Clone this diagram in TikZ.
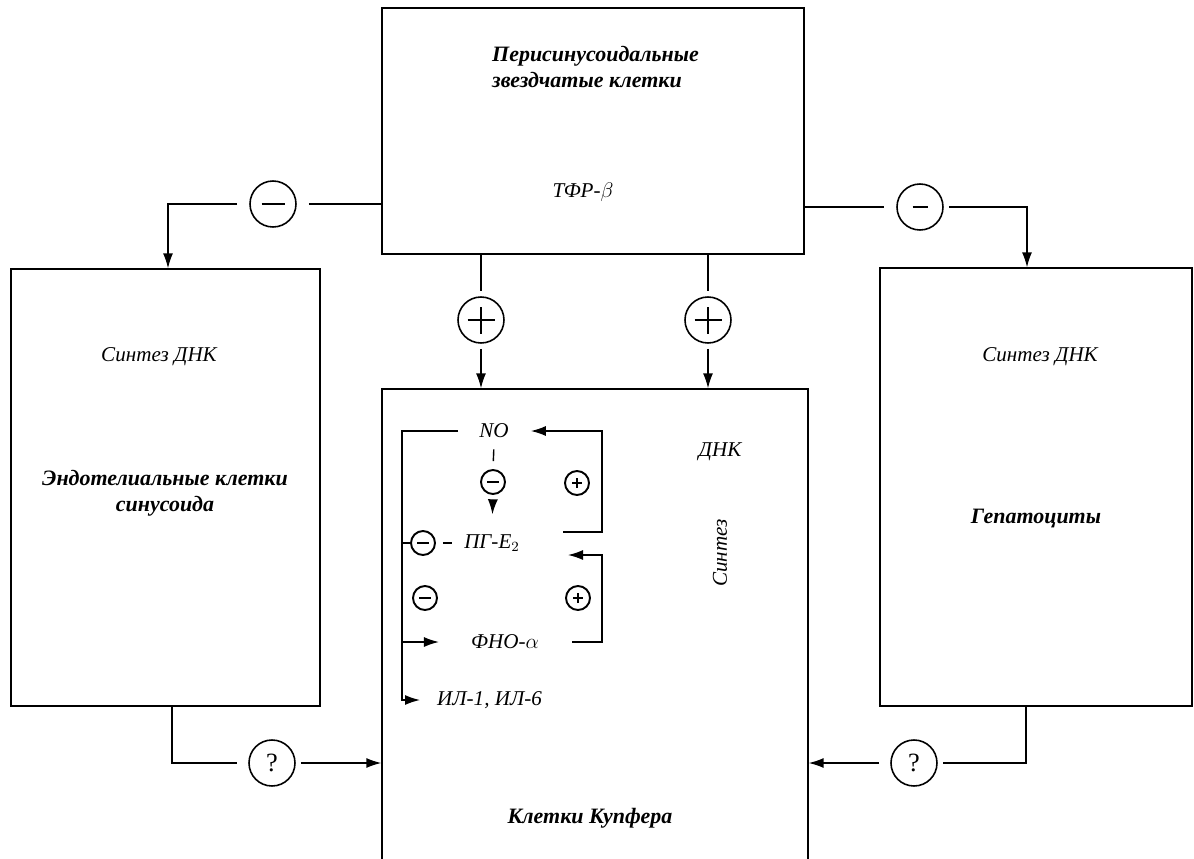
\documentclass[tikz,border=0pt]{standalone}
\usepackage{fontspec}
\setmainfont{Liberation Serif}
\usepackage{tikz}
\usetikzlibrary{positioning,arrows.meta}
\tikzset{
cellbox/.style={
draw,
line width=0.8pt,
inner sep=0pt
},
sign/.style={
circle,
draw,
line width=0.9pt,
minimum size=0.92cm,
inner sep=0pt
},
smallsign/.style={
circle,
draw,
line width=1.1pt,
minimum size=0.48cm,
inner sep=0pt
},
minusbar/.style={
path picture={\draw[line width=1.4pt]([xshift=-#1]path picture bounding box.center)--([xshift=#1]path picture bounding box.center);}
},
plusbar/.style={
path picture={\draw[line width=1.1pt]([xshift=-#1]path picture bounding box.center)--([xshift=#1]path picture bounding box.center)
([yshift=-#1]path picture bounding box.center)--([yshift=#1]path picture bounding box.center);}
},
celltext/.style={
font=\fontsize{12}{14.5}\selectfont\itshape,
align=center
},
celltitle/.style={
font=\fontsize{12.5}{15}\selectfont\bfseries\itshape,
align=center
},
link/.style={
line width=0.8pt
},
arrow/.style={
-{Latex[length=3mm,width=2mm]},
line width=0.8pt
}
}
\begin{document}
\begin{tikzpicture}[x=0.02cm,y=-0.02cm]
\useasboundingbox (0,0) rectangle (1194,859);
% cells
\node[cellbox,minimum width=8.44cm,minimum height=4.92cm] (psc) at (593,131) {};
\node[cellbox,minimum width=6.18cm,minimum height=8.74cm] (endo) at (165.5,487.5) {};
\node[cellbox,minimum width=6.24cm,minimum height=8.76cm] (hep) at (1036,487) {};
\node[cellbox,minimum width=8.52cm,minimum height=9.62cm] (kup) at (595,629.5) {};

\node[celltitle,align=left,anchor=west] (pscname) at (486,67) {Перисинусоидальные\\звездчатые клетки};
\node[celltext] (tgf) at (583,192) {ТФР-$\beta$};
\node[celltext] (endodna) at (159,357) {Синтез ДНК};
\node[celltitle] (endoname) at (165,493) {Эндотелиальные клетки\\синусоида};
\node[celltext] (hepdna) at (1040,357) {Синтез ДНК};
\node[celltitle] (hepname) at (1036,518) {Гепатоциты};
\node[celltitle] (kupname) at (590,818) {Клетки Купфера};
\node[celltext] (kupdna) at (720,452) {ДНК};
\node[celltext,rotate=90] (kupsyn) at (720,553) {Синтез};

% signs between cells
\node[sign,minusbar=0.23cm] (negL) at (273,204) {};
\node[sign,minusbar=0.15cm] (negR) at (920,207) {};
\node[sign,plusbar=0.27cm] (posL) at (481,320) {};
\node[sign,plusbar=0.27cm] (posR) at (708,320) {};
\node[sign,font=\fontsize{15}{15}\selectfont] (askL) at (272,763) {?};
\node[sign,font=\fontsize{15}{15}\selectfont] (askR) at (914,763) {?};

\coordinate (cornL) at (168,204);
\coordinate (cornR) at (1027,207);
\draw[link,shorten <=0.24cm] (negL.east) -- (negL -| psc.west);
\draw[arrow,shorten <=0.24cm] (negL.west) -- (cornL) -- (cornL |- endo.north);
\draw[link,shorten >=0.24cm] (negR -| psc.east) -- (negR.west);
\draw[arrow,shorten <=0.1cm] (negR.east) -- (cornR) -- (cornR |- hep.north);

\foreach \s in {posL,posR}{
\draw[link,shorten >=0.1cm] (psc.south -| \s) -- (\s.north);
\draw[arrow,shorten <=0.1cm] (\s.south) -- (\s |- kup.north);
}

\coordinate (askcornL) at (172,763);
\coordinate (askcornR) at (1026,763);
\draw[link,shorten >=0.22cm] (endo.south -| askcornL) -- (askcornL) -- (askL.west);
\draw[arrow,shorten <=0.1cm] (askL.east) -- (askL -| kup.west);
\draw[link,shorten >=0.1cm] (hep.south -| askcornR) -- (askcornR) -- (askR.east);
\draw[arrow,shorten <=0.22cm] (askR.west) -- (askR -| kup.east);

% mediators in the Kupffer cell
\node[celltext] (no) at (494,431) {NO};
\node[celltext] (pge) at (492,543) {ПГ-E$_2$};
\node[celltext] (tnf) at (505,642) {ФНО-$\alpha$};
\node[celltext,anchor=west] (il) at (431,700) {ИЛ-1, ИЛ-6};

\node[smallsign,minusbar=0.12cm] (nopge) at (493,482) {};
\node[smallsign,plusbar=0.1cm] (pgeno) at (577,483) {};
\node[smallsign,minusbar=0.12cm] (nopgeL) at (423,543) {};
\node[smallsign,minusbar=0.12cm] (notnf) at (425,598) {};
\node[smallsign,plusbar=0.1cm] (tnfpge) at (578,598) {};

\coordinate (innerTL) at (402,431);
\coordinate (innerBL) at (402,700);
\draw[arrow,shorten <=0.3cm,shorten >=0.22cm] (no.west) -- (innerTL) -- (innerBL) -- (il.west);
\draw[arrow,shorten >=0.52cm] (innerBL |- tnf) -- (tnf.west);
\draw[link] (nopgeL.west) -- (nopgeL -| innerTL);
\draw[link] ([xshift=0.14cm]nopgeL.east) -- ++(9,0);
\draw[link,shorten <=0.1cm,shorten >=0.16cm] (no.south) -- (nopge.north);
\draw[arrow,shorten <=0.1cm,shorten >=0.28cm] (nopge.south) -- (pge.north);

\coordinate (loopA) at (563,532);
\coordinate (loopAr) at (602,532);
\coordinate (loopAt) at (602,431);
\draw[arrow,shorten >=0.32cm] (loopA) -- (loopAr) -- (loopAt) -- (no.east);
\coordinate (loopB) at (572,642);
\coordinate (loopBr) at (602,642);
\coordinate (loopBt) at (602,555);
\coordinate (loopBtip) at (568,555);
\draw[arrow] (loopB) -- (loopBr) -- (loopBt) -- (loopBtip);
\end{tikzpicture}
\end{document}
